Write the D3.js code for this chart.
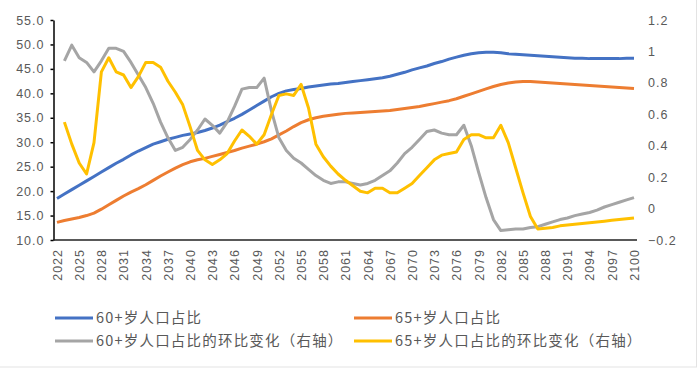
<!DOCTYPE html>
<html>
<head>
<meta charset="utf-8">
<script src="https://cdn.jsdelivr.net/npm/d3@7"></script>
<style>
	body { margin: 0; background: #fff; }
	.tick text { fill: #595959; font-family: "Liberation Sans", Arial, sans-serif; font-size: 12.5px; letter-spacing: 1px; }
	.legend text { fill: #595959; font-family: "Noto Sans CJK SC", sans-serif; font-size: 14.5px; letter-spacing: 1.2px; }
</style>
</head>
<body>
<svg id="chart" width="700" height="371"></svg>
<script>
var years = d3.range(2022, 2101);
var xTickYears = d3.range(2022, 2101, 3);
var leftTicks = [10, 15, 20, 25, 30, 35, 40, 45, 50, 55];
var rightTicks = [-0.2, 0, 0.2, 0.4, 0.6, 0.8, 1, 1.2];

// share of population aged 60+ / 65+ (%)
var share60 = [
	18.5, 19.4, 20.3, 21.2, 22.1, 23.0, 23.9, 24.8, 25.7, 26.5,
	27.4, 28.2, 28.9, 29.6, 30.1, 30.6, 31.0, 31.4, 31.7, 32.0,
	32.4, 32.9, 33.5, 34.2, 34.9, 35.7, 36.6, 37.5, 38.4, 39.3,
	40.0, 40.5, 40.8, 41.0, 41.3, 41.5, 41.7, 41.9, 42.0, 42.2,
	42.4, 42.6, 42.8, 43.0, 43.2, 43.5, 43.9, 44.3, 44.8, 45.2,
	45.6, 46.1, 46.5, 47.0, 47.4, 47.8, 48.1, 48.3, 48.4, 48.4,
	48.3, 48.1, 48.0, 47.9, 47.8, 47.7, 47.6, 47.5, 47.4, 47.3,
	47.2, 47.2, 47.1, 47.1, 47.1, 47.1, 47.1, 47.2, 47.2
];
var share65 = [
	13.6, 14.0, 14.3, 14.6, 15.0, 15.5, 16.3, 17.2, 18.1, 19.0,
	19.8, 20.5, 21.3, 22.2, 23.1, 23.9, 24.7, 25.4, 26.0, 26.4,
	26.7, 27.1, 27.5, 27.9, 28.3, 28.8, 29.2, 29.6, 30.1, 30.7,
	31.5, 32.3, 33.2, 34.0, 34.6, 35.0, 35.3, 35.5, 35.7, 35.9,
	36.0, 36.1, 36.2, 36.3, 36.4, 36.5, 36.7, 36.9, 37.1, 37.3,
	37.6, 37.9, 38.2, 38.5, 38.9, 39.4, 39.9, 40.4, 40.9, 41.4,
	41.8, 42.1, 42.3, 42.4, 42.4, 42.3, 42.2, 42.1, 42.0, 41.9,
	41.8, 41.7, 41.6, 41.5, 41.4, 41.3, 41.2, 41.1, 41.0
];
// year-on-year change (right axis)
var chg60 = [
	null, 0.94, 1.04, 0.96, 0.93, 0.87, 0.94, 1.02, 1.02, 1.00,
	0.93, 0.85, 0.77, 0.67, 0.55, 0.45, 0.37, 0.39, 0.44, 0.50,
	0.57, 0.53, 0.48, 0.55, 0.65, 0.76, 0.77, 0.77, 0.83, 0.62,
	0.45, 0.37, 0.32, 0.29, 0.25, 0.21, 0.18, 0.16, 0.17, 0.17,
	0.16, 0.15, 0.16, 0.18, 0.21, 0.24, 0.29, 0.35, 0.39, 0.44,
	0.49, 0.50, 0.48, 0.47, 0.47, 0.53, 0.40, 0.23, 0.07, -0.07,
	-0.14, -0.135, -0.13, -0.13, -0.12, -0.115, -0.10, -0.085, -0.07, -0.06,
	-0.045, -0.035, -0.025, -0.01, 0.01, 0.025, 0.04, 0.055, 0.07
];
var chg65 = [
	null, 0.55, 0.41, 0.29, 0.22, 0.42, 0.87, 0.96, 0.87, 0.85,
	0.77, 0.84, 0.93, 0.93, 0.90, 0.81, 0.74, 0.66, 0.52, 0.37,
	0.31, 0.28, 0.31, 0.35, 0.43, 0.50, 0.46, 0.41, 0.47, 0.60,
	0.72, 0.73, 0.72, 0.79, 0.64, 0.41, 0.33, 0.27, 0.22, 0.18,
	0.145, 0.11, 0.10, 0.13, 0.13, 0.10, 0.10, 0.13, 0.16, 0.21,
	0.26, 0.31, 0.34, 0.35, 0.36, 0.44, 0.47, 0.47, 0.45, 0.45,
	0.53, 0.42, 0.26, 0.10, -0.05, -0.13, -0.125, -0.12, -0.11, -0.105,
	-0.10, -0.095, -0.09, -0.085, -0.08, -0.075, -0.07, -0.065, -0.06
];

var seriesNames = ["60+岁人口占比", "65+岁人口占比", "60+岁人口占比的环比变化（右轴）", "65+岁人口占比的环比变化（右轴）"];
var seriesColors = ["#4472C4", "#ED7D31", "#A5A5A5", "#FFC000"];

var svg = d3.select("#chart");

var xscale = d3.scalePoint().domain(years).range([57, 634]),
	yleft = d3.scaleLinear().domain([10, 55]).range([240, 20]),
	yright = d3.scaleLinear().domain([-0.2, 1.2]).range([240, 20]);

// light outer frame
svg.append("rect")
	.attr("x", -1).attr("y", -1)
	.attr("width", 697.5).attr("height", 368)
	.attr("fill", "none")
	.attr("stroke", "#e3e3e3");

function drawAxes() {
	var left = svg.append("g")
		.attr("transform", "translate(53.5,0)")
		.call(d3.axisLeft(yleft).tickValues(leftTicks).tickFormat(d3.format(".1f")).tickSizeInner(3).tickSizeOuter(0));
	left.select(".domain").attr("stroke", "#000").attr("stroke-width", 1.5);
	left.selectAll(".tick line").attr("stroke", "#000").attr("stroke-width", 1.5);
	left.selectAll(".tick text").attr("x", -9);

	var right = svg.append("g")
		.attr("transform", "translate(648,0)")
		.call(d3.axisRight(yright).tickValues(rightTicks).tickFormat(d3.format("~g")).tickSize(0));
	right.select(".domain").remove();
	right.selectAll(".tick text").attr("x", 0);

	var bottom = svg.append("g")
		.attr("transform", "translate(0,240)")
		.call(d3.axisBottom(xscale).tickValues(xTickYears).tickSize(0));
	bottom.select(".domain").remove();
	bottom.selectAll(".tick text")
		.attr("transform", "translate(0,9) rotate(-90)")
		.attr("text-anchor", "end")
		.attr("x", 0).attr("y", 0)
		.attr("dy", "0.35em");

	svg.append("line")
		.attr("x1", 53).attr("x2", 637)
		.attr("y1", 240).attr("y2", 240)
		.attr("stroke", "#222")
		.attr("stroke-width", 1.5);
}

function drawSeries(values, scale, color) {
	var line = d3.line()
		.defined(function (d) { return d != null; })
		.x(function (d, i) { return xscale(years[i]); })
		.y(function (d) { return scale(d); });

	svg.append("path")
		.datum(values)
		.attr("fill", "none")
		.attr("stroke", color)
		.attr("stroke-width", 3)
		.attr("stroke-linejoin", "round")
		.attr("d", line);
}

function drawLegend() {
	var cols = [55, 354],
		rows = [318, 341];
	var g = svg.append("g").attr("class", "legend");
	seriesNames.forEach(function (name, i) {
		var x = cols[i % 2],
			y = rows[Math.floor(i / 2)];
		g.append("line")
			.attr("x1", x).attr("x2", x + 38)
			.attr("y1", y).attr("y2", y)
			.attr("stroke", seriesColors[i])
			.attr("stroke-width", 3);
		g.append("text")
			.attr("x", x + 41)
			.attr("y", y)
			.attr("dy", "0.35em")
			.text(name);
	});
}

drawAxes();
drawSeries(share60, yleft, seriesColors[0]);
drawSeries(share65, yleft, seriesColors[1]);
drawSeries(chg60, yright, seriesColors[2]);
drawSeries(chg65, yright, seriesColors[3]);
drawLegend();
</script>
</body>
</html>
